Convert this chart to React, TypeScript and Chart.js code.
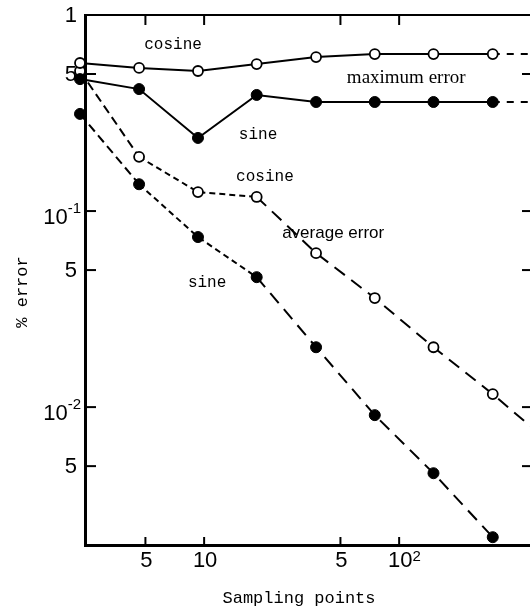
import React, { useEffect, useRef } from "react";
import { Chart, registerables } from "chart.js";

Chart.register(...registerables);

// Sampling points (last entry = where the dashed continuation meets the frame edge)
const samplingPoints = [2.31, 4.64, 9.3, 18.6, 37.5, 75, 150, 302, 470];
const markerCount = 8;

// % error values
const cosineMax = [0.569, 0.537, 0.518, 0.562, 0.61, 0.632, 0.632, 0.632, 0.632];
const sineMax = [0.471, 0.419, 0.236, 0.391, 0.36, 0.36, 0.36, 0.36, 0.36];
const cosineAvg = [0.518, 0.189, 0.125, 0.118, 0.061, 0.036, 0.0202, 0.01165, 0.008];
const sineAvg = [0.313, 0.137, 0.0737, 0.046, 0.0202, 0.0091, 0.0046, 0.00217];

// Axis ticks (mantissa + superscript exponent)
const yTickValues = [1, 0.5, 0.1, 0.05, 0.01, 0.005];
const yTickLabels = ["1", "5", "10", "5", "10", "5"];
const yTickExps = ["", "", "-1", "", "-2", ""];
const xTickValues = [5, 10, 50, 100];
const xTickLabels = ["5", "10", "5", "10"];
const xTickExps = ["", "", "", "2"];

const xTitle = "Sampling points";
const yTitle = "% error";

// In-plot labels (text, anchor in data space)
const noteTexts = ["cosine", "maximum error", "sine", "cosine", "average error", "sine"];
const noteX = [6.93, 108.7, 18.9, 20.5, 45.9, 10.36];
const noteY = [0.703, 0.477, 0.244, 0.149, 0.0772, 0.043];
const noteFonts = [
  "16px 'Liberation Mono'",
  "19px 'Liberation Serif'",
  "16px 'Liberation Mono'",
  "16px 'Liberation Mono'",
  "17px 'Liberation Sans'",
  "16px 'Liberation Mono'",
];

const tickFont = "22px 'Liberation Sans'";
const supFont = "15px 'Liberation Sans'";
const titleFont = "17px 'Liberation Mono'";

const framePlugin = {
  id: "frame",
  afterDraw(chart: any) {
    const { ctx, chartArea: a, scales } = chart;
    const x = scales.x;
    const y = scales.y;
    ctx.save();
    ctx.strokeStyle = "#000";
    ctx.fillStyle = "#000";
    const line = (x1: number, y1: number, x2: number, y2: number) => {
      ctx.beginPath();
      ctx.moveTo(x1, y1);
      ctx.lineTo(x2, y2);
      ctx.stroke();
    };
    ctx.lineWidth = 2;
    line(a.left, a.top, a.right, a.top);
    line(a.right, a.top, a.right, a.bottom);

    // y ticks + labels
    yTickValues.forEach((v, i) => {
      const py = y.getPixelForValue(v);
      line(a.left, py, a.left + 11, py);
      line(a.right - 10, py, a.right, py);
      const exp = yTickExps[i];
      ctx.textBaseline = "middle";
      if (exp) {
        ctx.font = supFont;
        const ew = ctx.measureText(exp).width;
        ctx.textAlign = "left";
        ctx.fillText(exp, a.left - 4 - ew, py - 2);
        ctx.font = tickFont;
        ctx.textAlign = "right";
        ctx.fillText(yTickLabels[i], a.left - 4 - ew, py + 7);
      } else {
        ctx.font = tickFont;
        ctx.textAlign = "right";
        ctx.fillText(yTickLabels[i], a.left - 8, py + 1);
      }
    });

    // x ticks + labels
    xTickValues.forEach((v, i) => {
      const px = x.getPixelForValue(v);
      line(px, a.bottom, px, a.bottom - 8);
      line(px, a.top, px, a.top + 10);
      ctx.font = tickFont;
      ctx.textAlign = "center";
      ctx.textBaseline = "middle";
      const w = ctx.measureText(xTickLabels[i]).width;
      ctx.fillText(xTickLabels[i], px + 1, a.bottom + 16);
      const exp = xTickExps[i];
      if (exp) {
        ctx.font = supFont;
        ctx.textAlign = "left";
        ctx.fillText(exp, px + 1 + w / 2, a.bottom + 12);
      }
    });

    // axis titles
    ctx.font = titleFont;
    ctx.textAlign = "center";
    ctx.textBaseline = "middle";
    ctx.fillText(xTitle, 299, 598);
    ctx.save();
    ctx.translate(22, 292);
    ctx.rotate(-Math.PI / 2);
    ctx.fillText(yTitle, 0, 0);
    ctx.restore();

    // in-plot notes
    noteTexts.forEach((t, i) => {
      ctx.font = noteFonts[i];
      ctx.fillText(t, x.getPixelForValue(noteX[i]), y.getPixelForValue(noteY[i]));
    });
    ctx.restore();
  },
};

export default function App() {
  const ref = useRef<HTMLCanvasElement | null>(null);

  useEffect(() => {
    if (!ref.current) return;
    const openPts = { pointBackgroundColor: "#fff", pointBorderColor: "#000", pointBorderWidth: 1.8 };
    const filledPts = { pointBackgroundColor: "#000", pointBorderColor: "#000", pointBorderWidth: 1 };
    const radius = (r: number) => (c: any) => (c.dataIndex < markerCount ? r : 0);
    const maxDash = (c: any) => (c.p0DataIndex >= markerCount - 1 ? [7, 7] : undefined);
    const avgDash = (c: any) =>
      c.p0DataIndex === 0 ? [9, 5] : c.p0DataIndex <= 2 ? [6, 4] : [13, 8];

    const mk = (vals: number[], pts: any, r: number, dash: any) => ({
      data: vals.map((v, i) => ({ x: samplingPoints[i], y: v })),
      borderColor: "#000",
      borderWidth: 2,
      pointRadius: radius(r),
      pointHoverRadius: radius(r),
      ...pts,
      segment: { borderDash: dash },
      clip: false,
      tension: 0,
    });

    const chart = new Chart(ref.current, {
      type: "line",
      data: {
        datasets: [
          { label: "cosine max", ...mk(cosineMax, openPts, 5, maxDash) },
          { label: "sine max", ...mk(sineMax, filledPts, 5.5, maxDash) },
          { label: "cosine avg", ...mk(cosineAvg, openPts, 5, avgDash) },
          { label: "sine avg", ...mk(sineAvg, filledPts, 5.5, avgDash) },
        ] as any,
      },
      options: {
        animation: false,
        responsive: false,
        devicePixelRatio: 1,
        layout: { padding: { top: 15, right: 8, left: 0, bottom: 0 } },
        plugins: { legend: { display: false }, tooltip: { enabled: false } },
        scales: {
          x: {
            type: "logarithmic",
            min: 2.45,
            max: 480,
            afterBuildTicks: (s: any) => {
              s.ticks = xTickValues.map((v) => ({ value: v }));
            },
            afterFit: (s: any) => {
              s.height = 66;
            },
            grid: { display: false, drawTicks: false },
            border: { display: true, color: "#000", width: 3 },
            ticks: { display: false },
          },
          y: {
            type: "logarithmic",
            min: 0.00198,
            max: 1,
            afterBuildTicks: (s: any) => {
              s.ticks = yTickValues.map((v) => ({ value: v }));
            },
            afterFit: (s: any) => {
              s.width = 85;
            },
            grid: { display: false, drawTicks: false },
            border: { display: true, color: "#000", width: 3 },
            ticks: { display: false },
          },
        },
      } as any,
      plugins: [framePlugin],
    });
    return () => chart.destroy();
  }, []);

  return (
    <div
      style={{
        position: "fixed",
        left: 0,
        top: 0,
        width: 530,
        height: 611,
        overflow: "hidden",
        background: "#fff",
      }}
    >
      <canvas ref={ref} width={540} height={611} style={{ width: 540, height: 611, display: "block" }} />
    </div>
  );
}
